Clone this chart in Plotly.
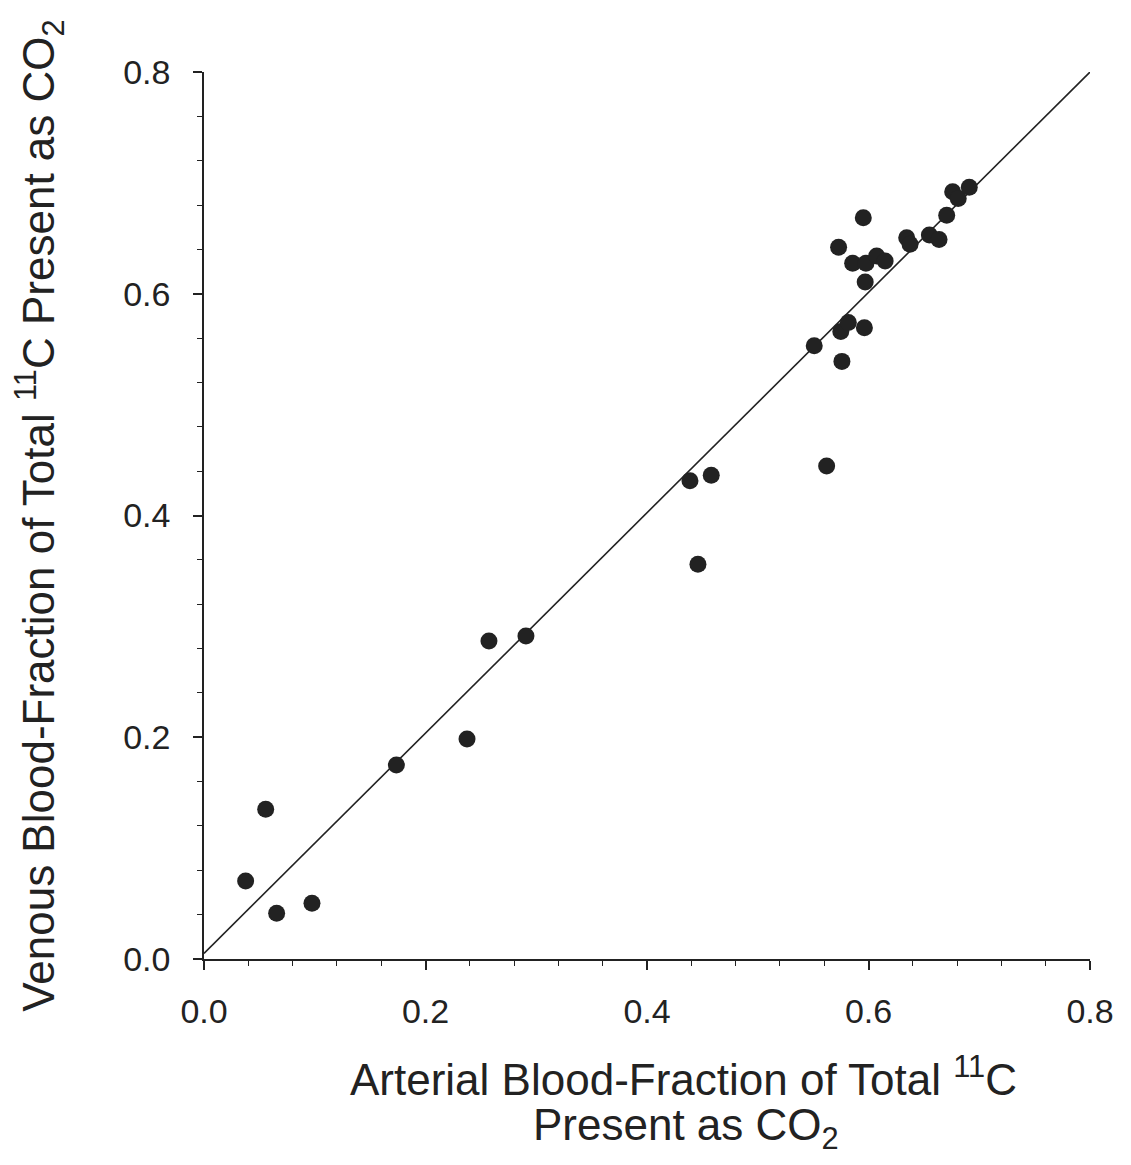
import plotly.graph_objects as go

# Data
arterial = [0.0376, 0.0557, 0.0656, 0.0975, 0.1737, 0.2375, 0.2573, 0.2907,
            0.4388, 0.4580, 0.4460, 0.5622, 0.5510, 0.5760, 0.5750, 0.5818,
            0.5963, 0.5970, 0.5730, 0.5953, 0.5857, 0.5977, 0.6074, 0.6150,
            0.6345, 0.6375, 0.6550, 0.6637, 0.6706, 0.6760, 0.6810, 0.6910]
venous = [0.0703, 0.1350, 0.0412, 0.0502, 0.1750, 0.1984, 0.2868, 0.2913,
          0.4314, 0.4362, 0.3560, 0.4446, 0.5530, 0.5390, 0.5660, 0.5740,
          0.5694, 0.6105, 0.6419, 0.6686, 0.6275, 0.6275, 0.6340, 0.6295,
          0.6506, 0.6446, 0.6530, 0.6490, 0.6707, 0.6920, 0.6860, 0.6960]

line_x = [0.0, 0.8]
line_y = [0.005, 0.8]

tick_vals = [0.0, 0.2, 0.4, 0.6, 0.8]
tick_text = ["0.0", "0.2", "0.4", "0.6", "0.8"]

ink = "#222222"
font_family = "Liberation Sans, Arial, sans-serif"

fig = go.Figure()
fig.add_trace(go.Scatter(x=line_x, y=line_y, mode="lines",
                         line=dict(color=ink, width=1.6), showlegend=False,
                         hoverinfo="skip"))
fig.add_trace(go.Scatter(x=arterial, y=venous, mode="markers",
                         marker=dict(color=ink, size=17, line=dict(width=0)),
                         showlegend=False, cliponaxis=False))

axis_common = dict(
    range=[0, 0.8], tickmode="array", tickvals=tick_vals, ticktext=tick_text,
    showline=True, linecolor=ink, linewidth=1.6, showgrid=False, zeroline=False,
    ticks="outside", ticklen=9, tickwidth=1.6, tickcolor=ink, automargin=False,
    tickfont=dict(family=font_family, size=34, color=ink),
    minor=dict(dtick=0.04, tick0=0, ticks="outside", ticklen=5, tickwidth=1.4,
               tickcolor=ink, showgrid=False),
)

# page body has an 8px default margin, so the figure is sized/offset to compensate
fig.update_layout(
    width=1123, height=1157,
    margin=dict(l=196, r=41, t=64, b=206),
    plot_bgcolor="white", paper_bgcolor="white",
    font=dict(family=font_family, color=ink),
    xaxis=dict(**axis_common, ticklabelstandoff=12),
    yaxis=dict(**axis_common, ticklabelstandoff=16,
               title=dict(text="Venous Blood-Fraction of Total <sup>11</sup>C Present as CO<sub>2</sub>",
                          font=dict(family=font_family, size=44, color=ink),
                          standoff=56)),
    annotations=[
        dict(text="Arterial Blood-Fraction of Total <sup>11</sup>C", xref="paper", yref="paper",
             x=(683 - 204) / 886, y=-(1076 - 959) / 887, xanchor="center", yanchor="middle",
             showarrow=False, font=dict(family=font_family, size=44, color=ink)),
        dict(text="Present as CO<sub>2</sub>", xref="paper", yref="paper",
             x=(686 - 204) / 886, y=-(1128 - 959) / 887, xanchor="center", yanchor="middle",
             showarrow=False, font=dict(family=font_family, size=44, color=ink)),
    ],
)

fig.write_html("out.html")
